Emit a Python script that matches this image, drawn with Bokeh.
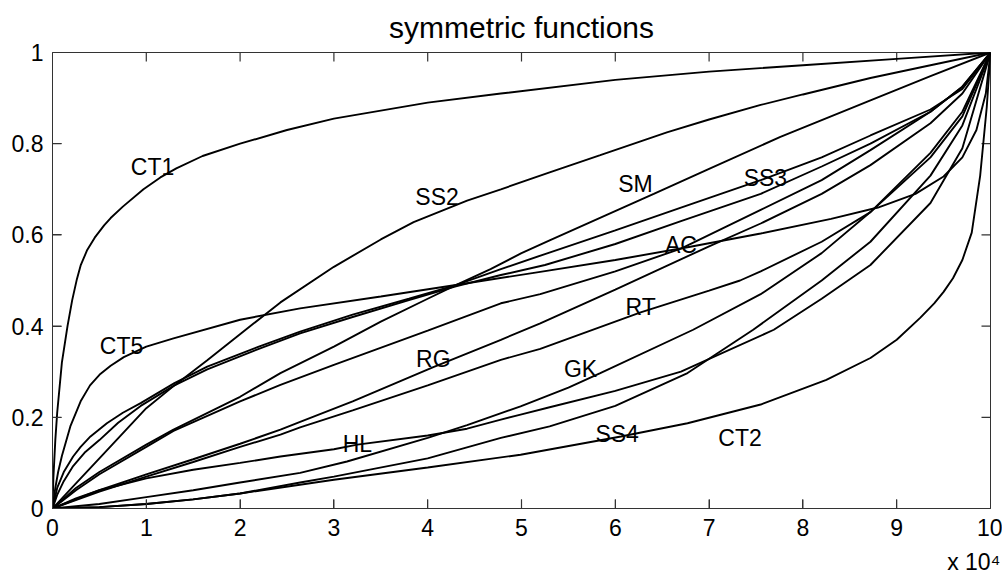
from bokeh.plotting import figure
from bokeh.models import (Range1d, LinearAxis, FixedTicker, NumeralTickFormatter,
                          Title, ColumnDataSource)
from bokeh.core.properties import value
from bokeh.embed import file_html
from bokeh.resources import INLINE

# ---------------- data (x in units of 10^4) ----------------
ct1_x = [0, 0.01, 0.03, 0.05, 0.1, 0.16, 0.21, 0.26, 0.3, 0.37, 0.45, 0.55, 0.62, 0.75, 0.97, 1.15, 1.32, 1.6, 2.0, 2.5, 3.0, 4.0, 4.78, 6.0, 7.0, 8.0, 9.0, 10]
ct1_y = [0, 0.07, 0.15, 0.21, 0.32, 0.40, 0.457, 0.503, 0.533, 0.567, 0.594, 0.621, 0.637, 0.662, 0.70, 0.726, 0.746, 0.773, 0.80, 0.83, 0.855, 0.89, 0.91, 0.94, 0.958, 0.972, 0.986, 1.0]

ss2_x = [0, 0.25, 0.5, 1.0, 1.3, 1.65, 2.14, 2.43, 3.0, 3.5, 3.85, 4.42, 4.78, 5.3, 5.84, 6.55, 7.0, 7.55, 8.0, 8.72, 9.36, 10]
ss2_y = [0, 0.055, 0.11, 0.22, 0.27, 0.325, 0.405, 0.452, 0.53, 0.59, 0.628, 0.675, 0.70, 0.737, 0.775, 0.825, 0.853, 0.885, 0.908, 0.944, 0.972, 1.0]

sm_x = [0, 0.25, 0.5, 1.0, 1.29, 2.0, 2.43, 3.0, 3.5, 4.0, 4.3, 4.67, 5.0, 5.3, 6.41, 7.0, 7.76, 8.72, 9.36, 10]
sm_y = [0, 0.045, 0.08, 0.14, 0.173, 0.245, 0.297, 0.355, 0.41, 0.46, 0.49, 0.525, 0.56, 0.588, 0.69, 0.745, 0.815, 0.895, 0.948, 1.0]

ss3_x = [0, 0.05, 0.12, 0.22, 0.3, 0.405, 0.58, 0.75, 0.94, 1.3, 1.65, 2.2, 2.64, 3.2, 3.8, 4.3, 4.78, 5.25, 6.0, 6.7, 7.55, 8.2, 8.72, 9.36, 9.7, 10]
ss3_y = [0, 0.045, 0.08, 0.114, 0.135, 0.158, 0.187, 0.21, 0.231, 0.275, 0.311, 0.355, 0.388, 0.425, 0.46, 0.49, 0.525, 0.558, 0.61, 0.66, 0.72, 0.77, 0.818, 0.875, 0.92, 1.0]

ac_x = [0, 0.05, 0.12, 0.22, 0.35, 0.5, 0.7, 0.94, 1.3, 1.65, 2.2, 2.64, 3.2, 3.8, 4.3, 4.78, 5.25, 6.0, 6.7, 7.55, 8.2, 8.72, 9.36, 9.7, 10]
ac_y = [0, 0.03, 0.06, 0.093, 0.124, 0.15, 0.188, 0.225, 0.27, 0.305, 0.35, 0.384, 0.42, 0.457, 0.487, 0.512, 0.534, 0.58, 0.63, 0.69, 0.75, 0.80, 0.87, 0.925, 1.0]

ct5_x = [0, 0.03, 0.06, 0.1, 0.19, 0.3, 0.4, 0.51, 0.62, 0.76, 1.0, 1.29, 2.0, 2.64, 3.5, 4.3, 5.2, 6.0, 6.8, 7.55, 8.3, 8.8, 9.2, 9.5, 9.7, 9.85, 9.95, 10]
ct5_y = [0, 0.045, 0.08, 0.115, 0.18, 0.235, 0.27, 0.295, 0.313, 0.332, 0.355, 0.373, 0.414, 0.439, 0.465, 0.49, 0.519, 0.545, 0.574, 0.603, 0.635, 0.66, 0.69, 0.728, 0.77, 0.83, 0.91, 1.0]

l5_x = [0, 0.25, 0.5, 1.0, 1.29, 2.0, 2.43, 3.0, 4.0, 4.78, 5.2, 6.0, 6.7, 7.55, 8.2, 8.72, 9.36, 9.7, 10]
l5_y = [0, 0.04, 0.075, 0.135, 0.17, 0.235, 0.271, 0.315, 0.39, 0.45, 0.47, 0.52, 0.57, 0.655, 0.72, 0.786, 0.87, 0.925, 1.0]

rg_x = [0, 0.5, 1.0, 1.5, 2.0, 2.43, 2.64, 3.2, 4.06, 4.78, 5.2, 6.0, 7.0, 7.55, 8.2, 8.72, 9.36, 9.7, 10]
rg_y = [0, 0.04, 0.075, 0.108, 0.142, 0.173, 0.19, 0.235, 0.31, 0.37, 0.406, 0.48, 0.575, 0.625, 0.69, 0.753, 0.845, 0.91, 1.0]

rt_x = [0, 0.5, 1.0, 1.5, 2.0, 2.43, 2.64, 3.2, 4.0, 4.78, 5.2, 6.27, 7.0, 7.33, 7.55, 8.2, 8.72, 9.36, 9.7, 10]
rt_y = [0, 0.037, 0.07, 0.102, 0.135, 0.162, 0.178, 0.215, 0.27, 0.326, 0.35, 0.43, 0.478, 0.50, 0.52, 0.585, 0.65, 0.77, 0.86, 1.0]

hl_x = [0, 0.25, 0.5, 1.0, 1.5, 2.0, 2.43, 3.0, 3.25, 4.0, 4.42, 4.78, 4.99, 5.3, 6.0, 6.7, 7.69, 8.2, 8.72, 9.36, 9.7, 10]
hl_y = [0, 0.022, 0.04, 0.066, 0.085, 0.1, 0.114, 0.13, 0.14, 0.16, 0.175, 0.195, 0.206, 0.222, 0.258, 0.3, 0.392, 0.46, 0.534, 0.67, 0.79, 1.0]

gk_x = [0, 0.5, 1.0, 1.5, 2.0, 2.64, 3.14, 4.0, 4.42, 4.99, 5.5, 5.84, 6.83, 7.55, 8.2, 8.72, 9.36, 9.7, 10]
gk_y = [0, 0.01, 0.025, 0.04, 0.057, 0.078, 0.103, 0.155, 0.183, 0.224, 0.265, 0.297, 0.392, 0.47, 0.56, 0.65, 0.78, 0.87, 1.0]

ss4_x = [0, 0.5, 1.0, 1.5, 2.0, 2.64, 3.0, 4.0, 4.78, 5.3, 6.0, 6.77, 7.47, 8.2, 8.72, 9.36, 9.7, 10]
ss4_y = [0, 0.003, 0.01, 0.02, 0.033, 0.057, 0.07, 0.11, 0.155, 0.18, 0.225, 0.297, 0.392, 0.5, 0.585, 0.73, 0.84, 1.0]

ct2_x = [0, 0.5, 1.0, 1.5, 2.0, 3.0, 4.0, 4.99, 6.06, 6.77, 7.55, 8.25, 8.72, 9.0, 9.25, 9.4, 9.5, 9.6, 9.7, 9.8, 9.89, 9.96, 10]
ct2_y = [0, 0.003, 0.01, 0.02, 0.033, 0.063, 0.09, 0.118, 0.158, 0.187, 0.228, 0.282, 0.33, 0.37, 0.418, 0.45, 0.475, 0.505, 0.545, 0.605, 0.73, 0.88, 1.0]

series = [(ct1_x, ct1_y), (ss2_x, ss2_y), (sm_x, sm_y), (ss3_x, ss3_y), (ac_x, ac_y),
          (ct5_x, ct5_y), (l5_x, l5_y), (rg_x, rg_y), (rt_x, rt_y), (hl_x, hl_y),
          (gk_x, gk_y), (ss4_x, ss4_y), (ct2_x, ct2_y)]

label_text = ["CT1", "SS2", "SM", "SS3", "AC", "RT", "RG", "GK", "CT5", "HL", "SS4", "CT2"]
label_x = [1.066, 4.10, 6.215, 7.60, 6.70, 6.27, 4.06, 5.63, 0.736, 3.25, 6.02, 7.33]
label_y = [0.748, 0.683, 0.712, 0.725, 0.577, 0.441, 0.327, 0.306, 0.356, 0.142, 0.163, 0.154]

x_ticks = [0, 1, 2, 3, 4, 5, 6, 7, 8, 9, 10]
y_ticks = [0, 0.2, 0.4, 0.6, 0.8, 1.0]

# ---------------- figure ----------------
FONT = "Liberation Sans"
AX = "#333333"
X0, X1, Y0, Y1 = 0, 10, 0, 1
TICK_PX = 9
FRAME_W, FRAME_H = 938, 457

p = figure(width=1002, height=582, output_backend="svg", toolbar_location=None,
           x_range=Range1d(X0, X1), y_range=Range1d(Y0, Y1),
           min_border_left=52, min_border_right=12, min_border_top=52, min_border_bottom=73,
           x_axis_type=None, y_axis_type=None)
p.background_fill_color = "white"
p.border_fill_color = "white"
p.outline_line_color = AX
p.outline_line_width = 1
p.xgrid.visible = False
p.ygrid.visible = False

p.title.text = "symmetric functions"
p.title.align = "center"
p.title.text_font = FONT
p.title.text_font_size = "30px"
p.title.text_font_style = "normal"
p.title.text_color = "black"
p.title.standoff = 17

def make_axis(ticks, standoff, fmt=None):
    ax = LinearAxis(ticker=FixedTicker(ticks=ticks))
    ax.axis_line_color = AX
    ax.major_tick_line_color = AX
    ax.major_tick_in = TICK_PX
    ax.major_tick_out = 0
    ax.minor_tick_line_color = None
    if fmt is not None:
        ax.formatter = fmt
    ax.major_label_text_font = FONT
    ax.major_label_text_font_size = "23px"
    ax.major_label_text_color = "black"
    ax.major_label_standoff = standoff
    return ax

p.add_layout(make_axis(x_ticks, 10), "below")
p.add_layout(make_axis(y_ticks, 9, NumeralTickFormatter(format="0.[0]")), "left")

p.add_layout(Title(text="x 10\u2074", align="right", text_font=FONT, text_font_size="23px",
                   text_font_style="normal", text_color="black", standoff=16, offset=-10), "below")

# inward tick marks on all four sides of the box
dx = TICK_PX * (X1 - X0) / FRAME_W
dy = TICK_PX * (Y1 - Y0) / FRAME_H
inner_x = [t for t in x_ticks if X0 < t < X1]
inner_y = [t for t in y_ticks if Y0 < t < Y1]
p.segment(x0=inner_x, y0=[Y0] * len(inner_x), x1=inner_x, y1=[Y0 + dy] * len(inner_x), line_color=AX, line_width=1.2)
p.segment(x0=inner_x, y0=[Y1] * len(inner_x), x1=inner_x, y1=[Y1 - dy] * len(inner_x), line_color=AX, line_width=1.2)
p.segment(x0=[X0] * len(inner_y), y0=inner_y, x1=[X0 + dx] * len(inner_y), y1=inner_y, line_color=AX, line_width=1.2)
p.segment(x0=[X1] * len(inner_y), y0=inner_y, x1=[X1 - dx] * len(inner_y), y1=inner_y, line_color=AX, line_width=1.2)

for xs, ys in series:
    p.line(xs, ys, line_color="black", line_width=1.9)

src = ColumnDataSource(dict(x=label_x, y=label_y, t=label_text))
p.text(x="x", y="y", text="t", source=src, text_font=value(FONT),
       text_font_size=value("23px"), text_align="center", text_baseline="middle",
       text_color="black")

open("out.html", "w").write(file_html(p, INLINE))
